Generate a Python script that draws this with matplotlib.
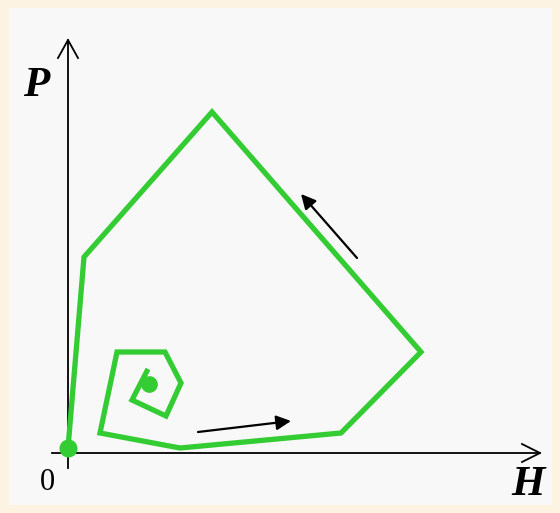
import matplotlib
matplotlib.use("Agg")
import matplotlib.pyplot as plt
from matplotlib.patches import Rectangle

# trajectory vertices (pixel coords of the reference, y down)
path_x = [68, 84, 212, 421, 341, 180, 100, 117, 165, 181, 166, 132, 148]
path_y = [448, 257, 112, 352, 433, 448, 433, 352, 352, 383, 416, 400, 369]
start_pt = (68, 448)
end_pt = (149, 384)

# direction arrows: (tail, tip)
arrows = [((198, 432), (291, 421)),
          ((357, 258), (301, 194))]

# axes
origin = (68, 453)
x_axis_end = 540
y_axis_end = 40

GREEN = "#33cc33"
SERIF = ["Liberation Serif", "DejaVu Serif"]

fig = plt.figure(figsize=(5.6, 5.13), dpi=100, facecolor="#fcf3e2")
ax = fig.add_axes([0, 0, 1, 1])
ax.set_xlim(0, 560)
ax.set_ylim(513, 0)
ax.axis("off")

ax.add_patch(Rectangle((9, 8), 543, 497, facecolor="#f8f8f8", edgecolor="none"))

# axis lines with open arrowheads
ox, oy = origin
ax.plot([52, x_axis_end], [oy, oy], color="black", lw=1.3)
ax.plot([ox, ox], [468, y_axis_end], color="black", lw=1.3)
ax.plot([x_axis_end - 18, x_axis_end, x_axis_end - 18], [oy - 9, oy, oy + 9],
        color="black", lw=1.3)
ax.plot([ox - 10, ox, ox + 10], [y_axis_end + 18, y_axis_end, y_axis_end + 18],
        color="black", lw=1.3)

ax.plot(path_x, path_y, color=GREEN, lw=3.8, solid_joinstyle="miter",
        solid_capstyle="butt", zorder=3)
ax.plot(*start_pt, "o", color=GREEN, ms=12, zorder=4)
ax.plot(*end_pt, "o", color=GREEN, ms=11, zorder=4)

for tail, tip in arrows:
    ax.annotate("", xy=tip, xytext=tail,
                arrowprops=dict(arrowstyle="-|>", color="black", lw=1.6,
                                mutation_scale=22, shrinkA=0, shrinkB=0))

ax.text(36, 86, "P", family=SERIF, fontsize=31, weight="bold", style="italic",
        ha="center", va="center")
ax.text(528, 485, "H", family=SERIF, fontsize=31, weight="bold", style="italic",
        ha="center", va="center")
ax.text(47, 482, "0", family=SERIF, fontsize=22, ha="center", va="center")

fig.savefig("out.png", dpi=100, facecolor=fig.get_facecolor())
